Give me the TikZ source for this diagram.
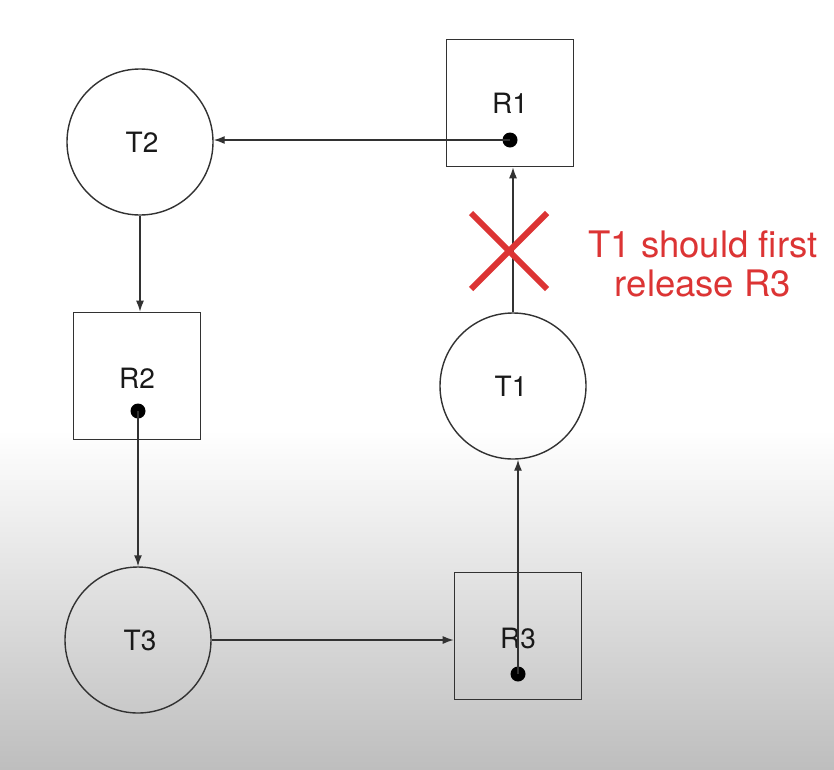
\documentclass[tikz,border=0pt]{standalone}
\usepackage{fontspec}
\setmainfont{TeX Gyre Heros}
\usetikzlibrary{shapes.misc,arrows.meta}
\definecolor{ln}{RGB}{50,50,50}
\definecolor{rd}{RGB}{220,52,52}
\definecolor{bgbot}{RGB}{190,190,190}
\begin{document}
\begin{tikzpicture}[x=1pt,y=-1pt,
 proc/.style={circle,draw=ln,line width=1.4pt,minimum size=146pt,inner sep=0pt},
 res/.style={rectangle,draw=ln,line width=1.6pt,minimum size=127pt,inner sep=0pt},
 lbl/.style={font=\fontsize{28}{30}\selectfont,text=black!90,inner sep=0pt},
 tok/.style={circle,fill=black,minimum size=15pt,inner sep=0pt},
 edge/.style={draw=ln,line width=1.4pt,-{Latex[length=11pt,width=8pt]}}]
\useasboundingbox (0,0) rectangle (834,769);
\fill[white] (0,0) rectangle (834,431);
\shade[top color=white,bottom color=bgbot] (0,430) rectangle (834,769);
% processes
\node[proc] (T2) at (140,142) {};
\node[proc] (T1) at (513,386) {};
\node[proc] (T3) at (138,640) {};
% resources
\node[res] (R1) at (510,103) {};
\node[res] (R2) at (137,376) {};
\node[res] (R3) at (518,636) {};
% labels
\node[lbl] (lT2) at (142,142) {T2};
\node[lbl] (lT1) at (511,386) {T1};
\node[lbl] (lT3) at (140,640) {T3};
\node[lbl] (lR1) at (510,103) {R1};
\node[lbl] (lR2) at (137,378) {R2};
\node[lbl] (lR3) at (518,638) {R3};
% tokens
\node[tok] (d1) at (510,140) {};
\node[tok] (d2) at (138,411) {};
\node[tok] (d3) at (518,674) {};
% edges
\draw[edge] (d1.center) -- (T2.east |- d1.center);
\draw[edge] (T2.south) -- (T2.south |- R2.north);
\draw[edge] (d2.center) -- (d2.center |- T3.north);
\draw[edge] (T3.east) -- (T3.east -| R3.west);
\draw[edge] (d3.center) -- (d3.center |- T1.south);
\draw[edge] (T1.north) -- (T1.north |- R1.south);
% cross and note
\node[cross out,draw=rd,line width=6pt,minimum size=70pt,inner sep=0pt] (X) at (509,251) {};
\node[align=center,text=rd,font=\fontsize{36.5}{39}\selectfont] (note) at (703,264) {T1 should first\\release R3};
\end{tikzpicture}
\end{document}
